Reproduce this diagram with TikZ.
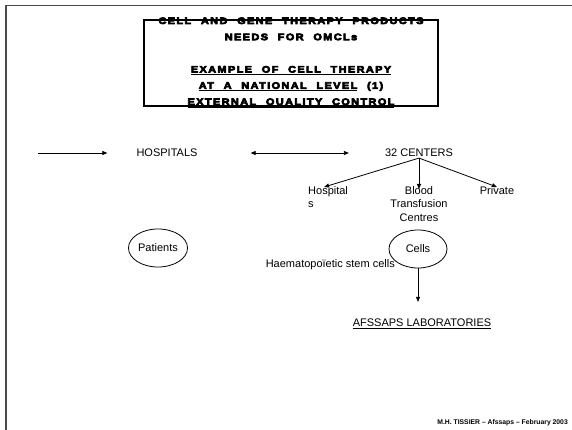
\documentclass[tikz,border=0pt]{standalone}
\usepackage{fontspec}
\setmainfont{Liberation Sans}
\newfontfamily\heavyfont{Liberation Sans}[UprightFont={* Bold},FakeBold=7,FakeStretch=1.16,LetterSpace=15,WordSpace=2.2]
\usetikzlibrary{arrows.meta,positioning,shapes.geometric}
\definecolor{framegray}{HTML}{4A4A4A}
\newcommand\titleul[1]{\setbox0\hbox{#1}\rlap{\rule[-2.6pt]{\wd0}{1.3pt}}\box0\relax}

\begin{document}
\begin{tikzpicture}[x=1pt,y=-1pt,
  lbl/.style={font=\fontsize{11}{13.5}\selectfont,inner sep=1pt},
  oval/.style={ellipse,draw,line width=0.8pt,minimum width=58pt,minimum height=38pt,inner sep=0pt},
  link/.style={line width=0.8pt,-{Triangle[length=5pt,width=4pt]}}]
  \useasboundingbox (0,0) rectangle (572,430);
  % page frame
  \draw[framegray,line width=1.3pt] (6,430) -- (6,5.5) -- (572,5.5);
  % title box
  \draw[line width=1.2pt] (144,20) rectangle (438,106);
  \node[align=center,inner sep=0pt,font=\heavyfont\fontsize{9.4}{16.2}\selectfont] (title) at (291,62.5)
    {CELL AND GENE THERAPY PRODUCTS\\
     NEEDS FOR OMCLs\\[16.2pt]
     \titleul{EXAMPLE OF CELL THERAPY}\\
     \titleul{AT A NATIONAL LEVEL} (1)\\
     \titleul{EXTERNAL QUALITY CONTROL}};

  % top row
  \coordinate (feed) at (38,153);
  \node[lbl] (hosp) at (167,153) {HOSPITALS};
  \node[lbl] (centers) at (419,153) {32 CENTERS};
  \draw[link,shorten >=28pt] (feed) -- (hosp);
  \draw[link,{Triangle[length=5pt,width=4pt]}-{Triangle[length=5pt,width=4pt]},shorten <=52pt,shorten >=35pt] (hosp) -- (centers);

  % kinds of centres
  \node[lbl,align=left,anchor=north west] (hospital) at (307,185) {Hospital\\s};
  \node[lbl,align=center,anchor=north] (blood) at (419,185) {Blood\\Transfusion\\Centres};
  \node[lbl,anchor=north] (private) at (497,185) {Private};
  \draw[link] (centers.south) -- ([xshift=-4pt,yshift=-2pt]hospital.north);
  \draw[link] (centers.south) -- ([yshift=-4pt]blood.north);
  \draw[link] (centers.south) -- ([yshift=-2pt]private.north);

  % patients and cells
  \node[oval,lbl] (patients) at (158,248) {Patients};
  \node[oval,lbl] (cells) at (418,249) {Cells};
  \node[lbl,anchor=east] (stemcells) at (396,265) {Haematopoïetic stem cells};
  \node[lbl] (afssaps) at (422,324) {\underline{AFSSAPS LABORATORIES}};
  \draw[link,shorten >=16pt] (cells.south) -- (cells.south |- afssaps.north);

  \node[anchor=east,inner sep=0pt,font=\bfseries\fontsize{6.8}{8}\selectfont] (footer) at (568,423)
    {M.H. TISSIER -- Afssaps -- February 2003};
\end{tikzpicture}
\end{document}
